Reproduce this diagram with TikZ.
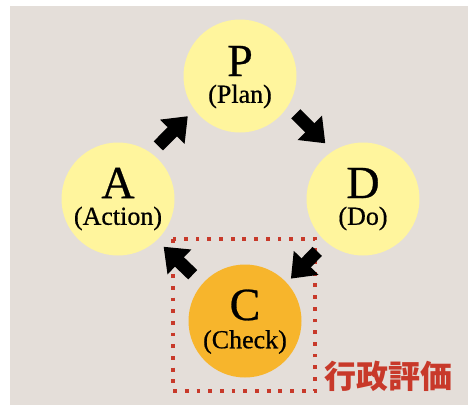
\documentclass[tikz,border=0pt]{standalone}
\usepackage{fontspec}
\setmainfont{Liberation Serif}
\newfontfamily\labfont{Liberation Serif}[FakeBold=0.6]
\newfontfamily\cjkfont{Noto Sans CJK JP}
\usetikzlibrary{arrows.meta}
\definecolor{bgc}{HTML}{E4DED9}
\definecolor{ylw}{HTML}{FFF59D}
\definecolor{org}{HTML}{F7B52C}
\definecolor{rd}{HTML}{C8392A}
\begin{document}
\begin{tikzpicture}[x=1pt,y=-1pt,
  phase/.style={circle, minimum size=113pt, inner sep=0pt, fill=ylw},
  big/.style={font=\labfont\fontsize{46}{46}\selectfont, inner sep=0pt},
  sub/.style={font=\labfont\fontsize{26}{26}\selectfont, inner sep=0pt},
  blk/.style={line width=13pt, -{Triangle[length=22pt,width=33pt]}},
  frame/.style={rd, line width=3.8pt, dash pattern=on 3.8pt off 7.9pt},
]
\useasboundingbox (0,0) rectangle (468,405);
\fill[bgc] (10,6) rectangle (468,405);
\draw[frame] (173,239) rectangle (315,391);

\node[phase] (P) at (240,76) {};
\node[phase] (A) at (118,199) {};
\node[phase] (D) at (363,199) {};
\node[phase, fill=org] (C) at (245,321) {};

\node[big] (Pl) at ([yshift=15pt]P.center) {P};
\node[sub] (Pt) at ([yshift=-20.5pt]P.center) {(Plan)};
\node[big] (Al) at ([yshift=16pt]A.center) {A};
\node[sub] (At) at ([yshift=-19.5pt]A.center) {(Action)};
\node[big] (Dl) at ([yshift=16pt]D.center) {D};
\node[sub] (Dt) at ([yshift=-19.5pt]D.center) {(Do)};
\node[big] (Cl) at ([yshift=16pt]C.center) {C};
\node[sub] (Ct) at ([yshift=-21pt]C.center) {(Check)};

\draw[blk, shorten <=9.4pt, shorten >=8.6pt, transform canvas={shift={(-6.2,-6.2)}}] (A) -- (P);
\draw[blk, shorten <=9.5pt, shorten >=9.3pt, transform canvas={shift={(9,-9)}}] (P) -- (D);
\draw[blk, shorten <=12.7pt, shorten >=5.7pt, transform canvas={shift={(2.5,2.5)}}] (D) -- (C);
\draw[blk, shorten <=13pt, shorten >=9.3pt, transform canvas={shift={(-2,2)}}] (C) -- (A);

\node[text=rd, inner sep=0pt, font=\cjkfont\bfseries\fontsize{32}{32}\selectfont] (hy) at (388.5,376.5) {行政評価};
\end{tikzpicture}
\end{document}
